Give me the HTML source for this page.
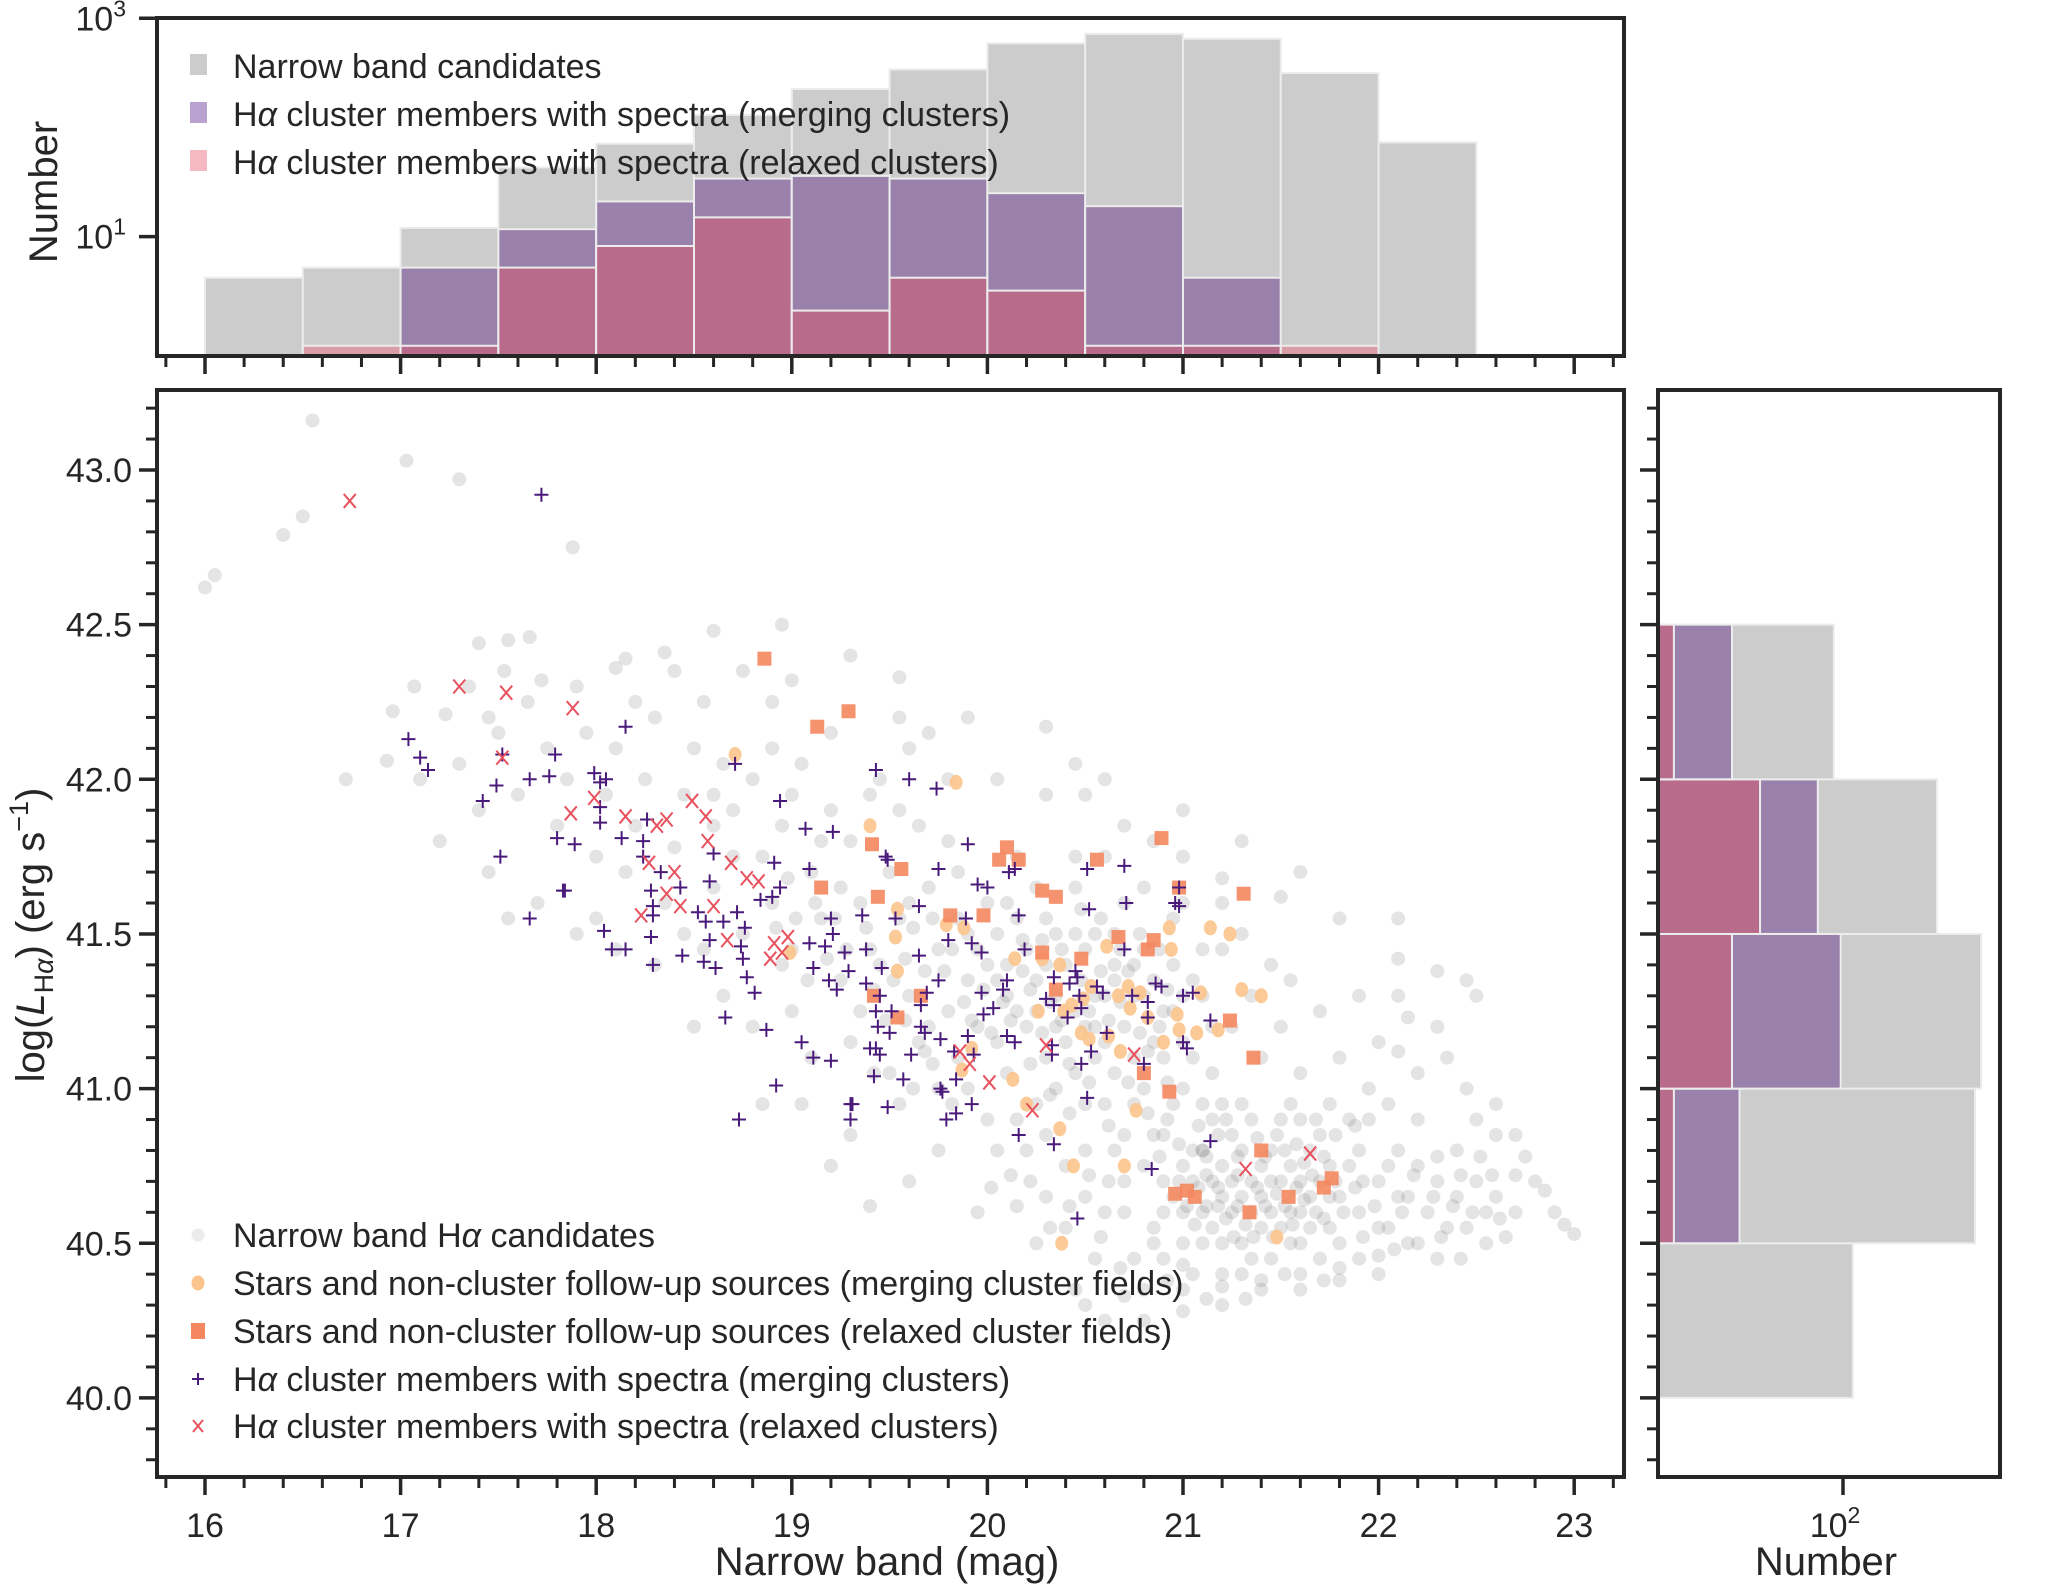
<!DOCTYPE html>
<html><head><meta charset="utf-8">
<style>
html,body{margin:0;padding:0;background:#fff;}
svg{display:block;font-family:"Liberation Sans",Arial,sans-serif;}
</style></head>
<body>
<svg id="fig" width="2050" height="1590" viewBox="0 0 2050 1590" xmlns="http://www.w3.org/2000/svg">
<g id="topHist"></g>
<g id="mainPlot"></g>
<g id="rightHist"></g>
</svg>
<script>
// ---------------- DATA ----------------
const binEdgesMag = [16,16.5,17,17.5,18,18.5,19,19.5,20,20.5,21,21.5,22,22.5];
const histCandidates = [4.2,5.2,12,43,71,130,225,340,590,720,650,315,73];
const histMerging = [0,0,5.2,11.7,21,34,36,34,25,19,4.2,0,0];
const histRelaxed = [0,1,1,5.2,8.2,15,2.1,4.2,3.2,1,1,1,0];

const binEdgesLum = [40.0,40.5,41.0,41.5,42.0,42.5];
const lumCandidates = [119,1036,1155,528,85];
const lumMerging = [0,16,96,64,14];
const lumRelaxed = [0,5,14,23,5];

const xTickLabels = ["16","17","18","19","20","21","22","23"];
const yTickLabels = ["40.0","40.5","41.0","41.5","42.0","42.5","43.0"];

const candidates = [
[16.0,42.62],[16.05,42.66],[16.4,42.79],[16.5,42.85],[16.55,43.16],[17.03,43.03],[17.3,42.97],[17.88,42.75],[16.72,42.0],[16.93,42.06],[17.07,42.30],[17.23,42.21],[16.96,42.22],[17.55,42.45],[17.66,42.46],[17.4,42.44],[17.53,42.35],[17.72,42.32],[17.45,42.2],[17.9,42.3],[18.1,42.36],[18.15,42.39],[18.35,42.41],[18.6,42.48],[18.9,42.25],[19.0,42.32],[19.55,42.33],[19.9,42.2],[20.3,42.17],[20.5,41.95],[20.7,41.85],[20.85,41.8],[21.0,41.75],[21.2,41.68],[21.5,41.62],[21.8,41.55],[22.1,41.42],[22.3,41.38],[22.45,41.35],[22.15,41.23],[22.1,41.12],[22.45,41.0],[22.6,40.85],[22.7,40.72],[22.8,40.7],[22.85,40.67],[22.9,40.6],[22.95,40.56],[23.0,40.53],[22.65,40.52],[22.55,40.6],[22.4,40.65],[22.3,40.78],[22.2,40.5],[22.0,40.46],[21.8,40.42],[21.6,40.4],[21.4,40.38],[21.2,40.36],[21.0,40.43],[20.85,40.5],[20.7,40.33],[20.5,40.3],
[17.3,42.05],[17.4,41.9],[17.5,42.15],[17.6,41.95],[17.65,42.25],[17.75,42.1],[17.8,41.85],[17.85,42.0],[17.95,42.15],[18.0,41.75],[18.05,41.95],[18.1,42.1],[18.15,41.7],[18.2,41.85],[18.25,42.0],[18.3,42.2],[18.35,41.6],[18.4,41.78],[18.45,41.95],[18.5,42.1],[17.7,41.6],[17.9,41.5],[18.1,41.45],[18.3,41.4],[18.45,41.5],[17.2,41.8],[17.45,41.7],[18.55,42.25],[18.6,41.85],[18.65,42.05],[17.55,41.55],[18.0,41.55],[18.2,42.25],[18.4,42.35],[17.35,42.3],[17.1,42.0],
[18.6,41.65],[18.7,41.9],[18.75,41.5],[18.8,42.0],[18.85,41.75],[18.9,41.6],[18.95,41.85],[19.0,41.45],[19.05,42.05],[19.1,41.7],[19.15,41.55],[19.2,41.9],[19.25,41.35],[19.3,41.8],[19.35,41.6],[19.4,41.45],[19.45,42.0],[19.5,41.7],[19.55,41.55],[19.6,41.3],[19.65,41.85],[19.7,41.65],[19.75,41.45],[19.8,42.0],[18.65,41.3],[18.8,41.2],[19.0,41.25],[19.1,41.1],[19.3,41.15],[19.5,41.05],[19.7,41.2],[19.75,41.0],[18.9,42.1],[19.2,42.15],[19.4,41.95],[19.6,42.1],[19.8,41.8],[19.85,41.55],[19.9,41.35],[18.7,41.75],[18.95,41.4],[19.15,41.8],[19.35,41.25],[19.55,41.9],[19.65,41.15],[19.0,41.95],[19.25,41.65],[19.45,41.4],[19.6,41.6],[19.8,41.25],[18.55,41.45],[18.6,41.95],[19.05,40.95],[19.3,40.85],[19.55,40.95],[19.75,40.8],[19.6,40.7],[19.4,40.62],[19.2,40.75],[18.85,40.95],[18.5,41.2],
[19.85,41.7],[19.9,41.5],[19.95,41.2],[20.0,41.6],[20.05,41.35],[20.1,41.05],[20.15,41.75],[20.2,41.45],[20.25,41.25],[20.3,41.55],[20.35,41.0],[20.4,41.4],[20.45,41.65],[20.5,41.2],[20.55,41.5],[20.6,40.95],[20.65,41.35],[20.7,41.6],[20.75,41.1],[20.8,41.45],[20.85,40.85],[20.9,41.25],[20.95,41.55],[21.0,41.0],[21.05,41.35],[21.1,40.8],[21.15,41.2],[21.2,41.45],
[19.9,41.0],[20.0,40.9],[20.1,41.3],[20.2,40.8],[20.3,41.1],[20.4,40.75],[20.5,40.95],[20.6,41.15],[20.7,40.85],[20.8,41.0],[20.9,40.7],[21.0,41.15],[21.1,41.3],[21.2,40.95],[19.95,41.45],[20.05,41.15],[20.15,41.55],[20.25,40.95],[20.35,41.3],[20.45,41.05],[20.55,41.3],[20.65,41.05],[20.75,41.4],[20.85,41.15],[20.95,40.95],[21.05,41.1],[21.15,41.05],[20.1,41.6],[20.2,41.2],[20.3,41.4],[20.4,41.15],[20.5,41.45],[20.6,41.3],[20.7,41.2],[20.8,41.3],[20.9,41.1],[21.0,41.3],[20.0,41.4],[20.1,41.4],[20.35,41.5],[20.55,41.1],[20.75,40.95],[20.95,41.25],[21.15,40.9],[20.25,41.65],[20.45,41.25],[20.65,41.5],[20.85,41.35],[19.85,41.1],[20.05,40.8],[20.15,40.9],[20.3,40.85],[20.5,40.8],[20.7,40.7],[20.45,41.75],[20.6,41.75],[20.8,41.65],[21.0,41.6],[21.2,41.6],[21.3,41.5],[21.35,41.3],[21.4,41.1],[21.3,40.95],[21.25,41.2],[21.45,41.4],[21.5,41.2],[21.55,41.35],[21.6,41.05],[21.7,41.25],[21.8,41.1],[21.9,41.3],[21.75,40.95],[21.6,40.9],
[20.7,40.6],[20.8,40.75],[20.85,40.55],[20.9,40.85],[20.95,40.65],[21.0,40.5],[21.05,40.8],[21.1,40.6],[21.15,40.7],[21.2,40.5],[21.25,40.85],[21.3,40.65],[21.35,40.45],[21.4,40.75],[21.45,40.6],[21.5,40.9],[21.55,40.5],[21.6,40.7],[21.65,40.55],[21.7,40.85],[21.75,40.65],[21.8,40.5],[21.85,40.75],[21.9,40.6],[21.95,40.9],[22.0,40.7],[22.05,40.55],[22.1,40.8],[22.15,40.65],[22.2,40.9],[22.25,40.6],[22.3,40.7],[22.35,40.55],
[20.75,40.45],[20.9,40.45],[21.05,40.4],[21.2,40.65],[21.3,40.8],[21.4,40.55],[21.5,40.7],[21.6,40.6],[21.7,40.45],[21.8,40.65],[21.9,40.8],[22.0,40.55],[22.1,40.65],[21.1,40.95],[21.25,40.7],[21.35,40.6],[21.45,40.8],[21.55,40.75],[21.65,40.8],[21.75,40.55],[21.85,40.9],[21.0,40.75],[21.15,40.55],[21.3,40.5],[21.45,40.45],[21.6,40.5],[21.2,40.75],[21.4,40.65],[21.5,40.55],[21.7,40.7],[21.9,40.45],[22.05,40.95],[22.2,40.75],[22.4,40.8],[22.5,40.7],[22.45,40.55],[22.3,40.45],[22.15,40.5],[20.6,40.6],[20.55,40.45],[20.65,40.8],[20.5,40.65],[21.0,40.6],[21.1,40.8],[21.35,40.9],[21.55,40.95],[21.0,40.35],[21.2,40.4],[21.4,40.35],[21.6,40.35],[21.8,40.38],[20.8,40.35],[22.0,40.4],[22.6,40.65],[22.7,40.6],[22.75,40.78],[22.55,40.5],[22.2,41.05],[22.35,41.1],[22.0,41.15],[22.1,41.3],[21.95,41.0],[22.5,40.9],[22.6,40.95],[22.7,40.85],[20.4,40.55],[20.3,40.65],[20.45,40.35],[20.6,40.25],[20.8,40.25],[21.0,40.28],[21.2,40.3],[20.25,40.5],[20.15,40.62],[19.95,40.6],[20.35,40.2],
[20.45,42.05],[20.3,41.95],[20.6,42.0],[19.55,42.2],[19.3,42.4],[18.95,42.5],[18.75,42.35],[21.3,41.8],[21.6,41.7],[21.0,41.9],[20.05,42.0],[19.7,42.15],[22.1,41.55],[22.5,41.3],[22.3,41.2],
[21.05,40.7],[21.25,40.6],[21.45,40.7],[21.65,40.65],[21.35,40.7],[21.55,40.6],[21.75,40.75],[20.9,40.6],[21.1,40.5],[21.3,40.4],[20.55,41.2],[20.35,41.2],[20.65,41.4],[20.45,41.5],[20.25,41.35],[20.75,41.3],[20.15,41.25],[20.95,41.4],[21.1,41.45],[20.05,41.5],
[21.02,40.62],[21.08,40.68],[21.12,40.72],[21.18,40.62],[21.22,40.58],[21.28,40.72],[21.32,40.56],[21.38,40.68],[21.42,40.62],[21.48,40.66],[21.52,40.62],[21.58,40.68],[21.62,40.64],[21.68,40.6],[21.72,40.58],[21.78,40.7],[21.82,40.6],[21.88,40.68],[21.28,40.62],[21.18,40.68],[21.36,40.52],[21.46,40.52],[21.26,40.52],[21.12,40.62],[21.56,40.56],[21.66,40.72],[21.06,40.56],[20.98,40.7],[21.92,40.7],[21.98,40.62],
[20.92,40.9],[20.98,40.82],[21.08,40.88],[21.18,40.85],[21.22,40.9],[21.38,40.84],[21.48,40.85],[21.58,40.82],[21.68,40.9],[21.78,40.85],[20.88,40.78],[21.12,40.78],[21.28,40.78],[21.42,40.78],[21.52,40.8],[21.62,40.76],[21.72,40.78],[21.88,40.88],
[20.22,41.32],[20.28,41.18],[20.32,41.28],[20.38,41.22],[20.42,41.08],[20.48,41.35],[20.52,41.25],[20.58,41.38],[20.62,41.22],[20.68,41.28],[20.72,41.38],[20.78,41.18],[20.82,41.12],[20.88,41.2],[20.92,41.32],[20.12,41.22],[20.18,41.38],[20.08,41.28],[20.02,41.18],[19.98,41.32],[20.38,41.45],[20.58,41.55],[20.78,41.5],[20.28,41.48],[20.48,41.58],[20.68,41.45],[20.88,41.45],[20.18,41.48],[20.22,41.08],[20.42,40.92],[20.62,40.88],[20.82,40.92],[20.32,40.98],[20.52,41.02],[20.72,41.02],[20.92,41.02],
[19.52,41.35],[19.58,41.42],[19.62,41.52],[19.68,41.38],[19.72,41.55],[19.78,41.38],[19.82,41.45],[19.88,41.28],[19.92,41.22],[19.48,41.22],[19.42,41.32],[19.38,41.52],[19.28,41.45],[19.22,41.55],[19.18,41.42],[19.12,41.6],[19.08,41.35],[19.02,41.55],[18.98,41.68],[18.92,41.52],[19.72,41.08],[19.82,40.95],[19.62,41.0],[19.42,41.05],[19.58,41.22],[19.68,41.12],
[22.05,40.75],[22.12,40.6],[22.18,40.72],[22.28,40.65],[22.38,40.62],[22.42,40.72],[22.48,40.6],[22.52,40.78],[22.58,40.72],[22.62,40.58],[22.32,40.52],[22.42,40.45],[22.08,40.48],[21.92,40.52],[21.72,40.38],[21.52,40.4],[21.32,40.32],[21.12,40.32],[20.92,40.38],[20.68,40.42],[20.58,40.52],[20.62,40.7],[20.52,40.72],[20.42,40.62],[20.32,40.55],[20.22,40.7],[20.12,40.72],[20.02,40.68]
];

const followMerging = [
[19.84,41.99],[19.40,41.85],[19.54,41.58],[19.79,41.53],[19.88,41.52],[19.53,41.49],[19.54,41.38],[20.14,41.42],[20.28,41.42],[20.37,41.40],[20.61,41.46],[20.93,41.52],[21.14,41.52],[21.24,41.50],[20.94,41.45],[20.53,41.33],[20.72,41.33],[20.78,41.31],[20.67,41.30],[20.49,41.29],[20.26,41.25],[20.39,41.25],[20.43,41.27],[20.73,41.26],[20.97,41.24],[20.82,41.23],[21.09,41.31],[21.30,41.32],[21.40,41.30],[20.48,41.18],[20.52,41.16],[20.62,41.17],[20.98,41.19],[21.07,41.18],[21.18,41.19],[20.90,41.15],[20.68,41.12],[19.92,41.13],[19.87,41.06],[20.13,41.03],[20.20,40.95],[20.37,40.87],[20.76,40.93],[20.44,40.75],[20.70,40.75],[21.48,40.52],[20.38,40.50],[18.71,42.08],[18.99,41.44]
];
const followRelaxed = [
[18.86,42.39],[19.29,42.22],[19.13,42.17],[19.41,41.79],[19.56,41.71],[19.15,41.65],[19.44,41.62],[19.42,41.30],[19.66,41.30],[19.54,41.23],[20.10,41.78],[20.06,41.74],[20.16,41.74],[20.56,41.74],[20.89,41.81],[20.28,41.64],[20.35,41.62],[20.98,41.65],[21.31,41.63],[19.81,41.56],[19.98,41.56],[20.67,41.49],[20.85,41.48],[20.82,41.45],[20.28,41.44],[20.48,41.42],[20.35,41.32],[21.24,41.22],[21.36,41.10],[20.80,41.05],[20.93,40.99],[21.40,40.80],[21.76,40.71],[21.72,40.68],[20.96,40.66],[21.02,40.67],[21.06,40.65],[21.54,40.65],[21.34,40.60]
];
const membersMerging = [
[17.04,42.13],[17.10,42.07],[17.14,42.03],[17.52,42.08],[17.79,42.08],[17.66,42.00],[17.76,42.01],[17.49,41.98],[17.42,41.93],[17.51,41.75],[17.99,42.02],[18.05,42.00],[18.02,41.99],[18.15,42.17],[18.02,41.86],[18.26,41.87],[17.80,41.81],[17.89,41.79],[18.13,41.81],[18.24,41.80],[18.24,41.75],[18.33,41.70],[17.84,41.64],[17.66,41.55],[18.28,41.64],[18.29,41.59],[18.29,41.56],[18.04,41.51],[18.08,41.45],[18.15,41.45],[18.28,41.49],[18.29,41.40],[18.43,41.65],[18.58,41.67],[18.60,41.76],[18.71,42.05],[18.91,41.73],[18.94,41.93],[19.07,41.84],[19.21,41.83],[19.09,41.71],[18.94,41.65],[18.84,41.61],[18.90,41.62],[18.52,41.57],[18.72,41.57],[18.56,41.54],[18.65,41.54],[18.76,41.52],[18.58,41.48],[18.44,41.43],[18.55,41.41],[18.61,41.39],[18.74,41.46],[18.75,41.42],[18.77,41.36],[18.81,41.31],[18.66,41.23],[18.87,41.19],[19.05,41.15],[18.92,41.01],[18.73,40.90],[19.11,41.10],[19.20,41.09],[19.11,41.39],[19.09,41.47],[19.17,41.46],[19.20,41.55],[19.21,41.50],[19.27,41.44],[19.29,41.38],[19.19,41.35],[19.23,41.32],[19.36,41.56],[19.38,41.45],[19.38,41.34],[19.46,41.39],[19.49,41.74],[19.43,42.03],[19.60,42.00],[19.74,41.97],[19.75,41.71],[19.65,41.59],[19.53,41.55],[19.45,41.30],[19.43,41.25],[19.51,41.25],[19.66,41.27],[19.69,41.31],[19.44,41.20],[19.50,41.18],[19.66,41.20],[19.68,41.18],[19.76,41.16],[19.43,41.13],[19.45,41.11],[19.61,41.11],[19.42,41.04],[19.57,41.03],[19.77,40.99],[19.30,40.95],[19.30,40.90],[19.49,40.94],[19.75,41.35],[19.65,41.43],
[19.48,41.75],[20.11,41.70],[19.95,41.66],[20.00,41.65],[19.89,41.55],[20.16,41.56],[20.52,41.58],[20.71,41.60],[20.98,41.59],[19.80,41.48],[19.92,41.47],[19.97,41.44],[20.19,41.45],[20.70,41.45],[20.10,41.35],[20.34,41.36],[20.45,41.38],[20.46,41.36],[20.42,41.34],[19.97,41.31],[20.08,41.32],[20.56,41.33],[20.59,41.31],[20.47,41.30],[20.74,41.30],[20.86,41.34],[20.89,41.33],[21.00,41.30],[21.05,41.31],[20.30,41.29],[20.34,41.27],[20.48,41.26],[20.82,41.28],[20.03,41.26],[19.98,41.24],[20.41,41.23],[20.82,41.23],[21.14,41.22],[19.90,41.17],[20.10,41.17],[20.14,41.15],[20.61,41.18],[19.40,41.13],[19.83,41.12],[19.93,41.11],[20.33,41.14],[20.33,41.11],[20.53,41.12],[20.48,41.08],[21.00,41.15],[21.02,41.13],[20.80,41.08],[19.84,41.03],[19.76,41.00],[19.92,40.95],[19.31,40.95],[19.84,40.92],[19.79,40.90],[20.51,40.97],[20.16,40.85],[20.34,40.82],[21.14,40.83],[20.84,40.74],[20.46,40.58],
[17.72,42.92],[17.83,41.64],[18.02,41.91],[20.96,41.60],[20.98,41.65],[20.70,41.72],[20.51,41.71],[20.14,41.71],[19.90,41.79]
];
const membersRelaxed = [
[16.74,42.90],[17.30,42.30],[17.54,42.28],[17.52,42.07],[17.88,42.23],[17.99,41.94],[17.87,41.89],[18.15,41.88],[18.31,41.85],[18.36,41.87],[18.49,41.93],[18.56,41.88],[18.27,41.73],[18.40,41.70],[18.57,41.80],[18.69,41.73],[18.77,41.68],[18.83,41.67],[18.43,41.59],[18.60,41.59],[18.67,41.48],[18.91,41.47],[18.95,41.44],[18.98,41.49],[18.89,41.42],[19.86,41.12],[19.91,41.08],[20.01,41.02],[20.23,40.93],[20.30,41.14],[20.75,41.11],[21.32,40.74],[21.65,40.79],[18.23,41.56],[18.36,41.63]
];

// ---------------- LAYOUT ----------------
const NS = "http://www.w3.org/2000/svg";
const AX = {l:157, r:1624};
const TOPB = {t:18, b:356};
const MAIN = {t:390, b:1477};
const RIGHT = {l:1658, r:2000};
const INK = "#262626";
const TICKFS = 34, LABFS = 40, LEGFS = 34;
const xMag = m => 205 + (m - 16) * 195.6;
const yLum = v => 470 + (43 - v) * 309.3;
const yTopLog = v => 236.6 - (Math.log10(v) - 1) * 109.15;
const xRightLog = v => 1843 + (Math.log10(v) - 2) * 130;

function el(tag, attrs, parent, text) {
  const e = document.createElementNS(NS, tag);
  for (const k in attrs) e.setAttribute(k, attrs[k]);
  if (text !== undefined) e.textContent = text;
  parent.appendChild(e);
  return e;
}
const topG = document.getElementById('topHist');
const mainG = document.getElementById('mainPlot');
const rightG = document.getElementById('rightHist');

const GRAY = "#cccccc", PURP = "#9a81ab", REDP = "#b96b8c", REDG = "#d99ea5", EDGE = "#ececec";

function topBar(i, v, fill, name) {
  if (v <= 0) return;
  const x0 = xMag(binEdgesMag[i]), x1 = xMag(binEdgesMag[i+1]);
  const y = yTopLog(v);
  const r = el('rect', {x:x0, y:y, width:x1-x0, height:TOPB.b-y, fill:fill, stroke:EDGE, 'stroke-width':2}, topG);
  
  
}
for (let i = 0; i < histCandidates.length; i++) {
  topBar(i, histCandidates[i], GRAY, 'top-bar-candidates');
  topBar(i, histMerging[i], PURP, 'top-bar-merging');
  topBar(i, histRelaxed[i], histMerging[i] >= histRelaxed[i] ? REDP : REDG, 'top-bar-relaxed');
}

function rightBar(i, v, fill, name) {
  if (v <= 0) return;
  const y0 = yLum(binEdgesLum[i+1]), y1 = yLum(binEdgesLum[i]);
  const x = xRightLog(v);
  const r = el('rect', {x:RIGHT.l, y:y0, width:x-RIGHT.l, height:y1-y0, fill:fill, stroke:EDGE, 'stroke-width':2}, rightG);
  
  
}
for (let i = 0; i < lumCandidates.length; i++) {
  rightBar(i, lumCandidates[i], GRAY, 'right-bar-candidates');
  rightBar(i, lumMerging[i], PURP, 'right-bar-merging');
  rightBar(i, lumRelaxed[i], lumMerging[i] >= lumRelaxed[i] ? REDP : REDG, 'right-bar-relaxed');
}

// ---------- Scatter ----------
const cg = el('g', {}, mainG);


candidates.forEach(p => {
  const c = el('circle', {cx:xMag(p[0]), cy:yLum(p[1]), r:7, fill:'#7a7a7a', 'fill-opacity':0.2}, cg);
  
  
});
const om = el('g', {}, mainG);


followMerging.forEach(p => {
  const c = el('ellipse', {cx:xMag(p[0]), cy:yLum(p[1]), rx:6.5, ry:7.5, fill:'#fbc48c', 'fill-opacity':0.9}, om);
  
  
});
const orx = el('g', {}, mainG);


followRelaxed.forEach(p => {
  const c = el('rect', {x:xMag(p[0])-7, y:yLum(p[1])-7, width:14, height:14, fill:'#f4875f', 'fill-opacity':0.9}, orx);
  
  
});
const mm = el('g', {stroke:'#4a1a7a', 'stroke-width':2}, mainG);


membersMerging.forEach(p => {
  const x = xMag(p[0]), y = yLum(p[1]);
  const c = el('path', {d:`M${x-7},${y}H${x+7}M${x},${y-7}V${y+7}`, fill:'none'}, mm);
  
  
});
const mr = el('g', {stroke:'#e8515e', 'stroke-width':2}, mainG);


membersRelaxed.forEach(p => {
  const x = xMag(p[0]), y = yLum(p[1]);
  const c = el('path', {d:`M${x-6},${y-7}L${x+6},${y+7}M${x+6},${y-7}L${x-6},${y+7}`, fill:'none'}, mr);
  
  
});

// ---------- Frames & ticks ----------
function frame(parent, x0, y0, x1, y1, name) {
  const r = el('rect', {x:x0, y:y0, width:x1-x0, height:y1-y0, fill:'none', stroke:INK, 'stroke-width':4}, parent);
  
  
}
frame(topG, AX.l, TOPB.t, AX.r, TOPB.b, 'top-axes-frame');
frame(mainG, AX.l, MAIN.t, AX.r, MAIN.b, 'main-axes-frame');
frame(rightG, RIGHT.l, MAIN.t, RIGHT.r, MAIN.b, 'right-axes-frame');

function tick(parent, x1, y1, x2, y2, w, name) {
  const t = el('line', {x1:x1, y1:y1, x2:x2, y2:y2, stroke:INK, 'stroke-width':w}, parent);
  
  
}
for (let k = 0; k <= 37; k++) {
  const m = 15.8 + k * 0.2;
  const x = xMag(m);
  if (x < AX.l - 1 || x > AX.r + 1) continue;
  const major = Math.abs(m - Math.round(m)) < 1e-6;
  const len = major ? 18 : 11;
  tick(topG, x, TOPB.b, x, TOPB.b + len, major ? 3.5 : 3, 'top-x-tick');
  tick(mainG, x, MAIN.b, x, MAIN.b + len, major ? 3.5 : 3, 'main-x-tick');
}
xTickLabels.forEach(s => {
  const t = el('text', {x:xMag(+s), y:1537, 'font-size':TICKFS, 'text-anchor':'middle', fill:INK}, mainG, s);
  
  
});
for (let k = 0; k <= 36; k++) {
  const v = 39.8 + k * 0.1;
  const y = yLum(v);
  if (y < MAIN.t + 2 || y > MAIN.b - 2) continue;
  const major = Math.abs(v * 2 - Math.round(v * 2)) < 1e-6;
  const len = major ? 18 : 11;
  tick(mainG, AX.l - len, y, AX.l, y, major ? 3.5 : 3, 'main-y-tick');
  tick(rightG, RIGHT.l - len, y, RIGHT.l, y, major ? 3.5 : 3, 'right-y-tick');
}
yTickLabels.forEach(s => {
  const t = el('text', {x:132, y:yLum(+s) + 12, 'font-size':TICKFS, 'text-anchor':'end', fill:INK}, mainG, s);
  
  
});
[1000, 10].forEach(v => {
  const y = yTopLog(v);
  tick(topG, AX.l - 18, y, AX.l, y, 3.5, 'top-y-tick');
  const t = el('text', {x:126, y:y + 12, 'font-size':TICKFS, 'text-anchor':'end', fill:INK}, topG);
  
  
  el('tspan', {}, t, '10');
  el('tspan', {dy:-14, 'font-size':23}, t, v === 1000 ? '3' : '1');
});
{
  const x = xRightLog(100);
  tick(rightG, x, MAIN.b, x, MAIN.b + 18, 3.5, 'right-x-tick');
  const t = el('text', {x:x - 8, y:1537, 'font-size':TICKFS, 'text-anchor':'middle', fill:INK}, rightG);
  
  
  el('tspan', {}, t, '10');
  el('tspan', {dy:-14, 'font-size':23}, t, '2');
}

// ---------- Axis labels ----------
{
  const t = el('text', {x:887, y:1575, 'font-size':LABFS, 'text-anchor':'middle', fill:INK}, mainG, 'Narrow band (mag)');
  
  
  const t2 = el('text', {x:1826, y:1575, 'font-size':LABFS, 'text-anchor':'middle', fill:INK}, rightG, 'Number');
  
  
  const t3 = el('text', {x:0, y:0, 'font-size':LABFS, 'text-anchor':'middle', fill:INK, transform:'translate(57,192) rotate(-90)'}, topG, 'Number');
  
  
  const t4 = el('text', {x:0, y:0, 'font-size':LABFS, 'text-anchor':'middle', fill:INK, transform:'translate(44,935) rotate(-90)'}, mainG);
  
  
  el('tspan', {}, t4, 'log(');
  el('tspan', {'font-style':'italic'}, t4, 'L');
  el('tspan', {dy:9, 'font-size':27}, t4, 'H');
  el('tspan', {'font-size':27, 'font-style':'italic'}, t4, 'α');
  el('tspan', {dy:-9}, t4, ') (erg s');
  el('tspan', {dy:-16, 'font-size':27}, t4, '−1');
  el('tspan', {dy:16}, t4, ')');
}

// ---------- Legends ----------
function legendText(parent, x, y, parts, name) {
  const t = el('text', {x:x, y:y, 'font-size':LEGFS, fill:INK}, parent);
  
  
  parts.forEach(p => {
    el('tspan', p.it ? {'font-style':'italic'} : {}, t, p.s);
  });
}
const HA = [{s:'H'},{s:'α',it:true}];
const topLegend = el('g', {}, topG);


[
  {c:'#cccccc', y:66, parts:[{s:'Narrow band candidates'}], n:'legend-entry-candidates'},
  {c:'#b9a2cf', y:114, parts:HA.concat([{s:' cluster members with spectra (merging clusters)'}]), n:'legend-entry-merging'},
  {c:'#f4b9c1', y:162, parts:HA.concat([{s:' cluster members with spectra (relaxed clusters)'}]), n:'legend-entry-relaxed'}
].forEach(e => {
  const r = el('rect', {x:190, y:e.y - 12, width:17, height:21, fill:e.c}, topLegend);
  
  
  legendText(topLegend, 233, e.y + 12, e.parts, e.n);
});

const mainLegend = el('g', {}, mainG);


const ly = [1235, 1283, 1331, 1379, 1426];
const lx = 198;
{
  const a = el('circle', {cx:lx, cy:ly[0], r:6.5, fill:'#808080', 'fill-opacity':0.15}, mainLegend);
  
  
  const b = el('ellipse', {cx:lx, cy:ly[1], rx:6.5, ry:7.5, fill:'#fbc48c'}, mainLegend);
  
  
  const c = el('rect', {x:lx - 7, y:ly[2] - 8, width:14, height:16, fill:'#f4875f'}, mainLegend);
  
  
  const d = el('path', {d:`M${lx-6},${ly[3]}H${lx+6}M${lx},${ly[3]-6}V${ly[3]+6}`, stroke:'#4a1a7a', 'stroke-width':2}, mainLegend);
  
  
  const e = el('path', {d:`M${lx-5},${ly[4]-6}L${lx+5},${ly[4]+6}M${lx+5},${ly[4]-6}L${lx-5},${ly[4]+6}`, stroke:'#e8515e', 'stroke-width':2}, mainLegend);
  
  
}
legendText(mainLegend, 233, ly[0] + 12, [{s:'Narrow band H'},{s:'α',it:true},{s:' candidates'}], 'legend-entry-nb-candidates');
legendText(mainLegend, 233, ly[1] + 12, [{s:'Stars and non-cluster follow-up sources (merging cluster fields)'}], 'legend-entry-follow-merging');
legendText(mainLegend, 233, ly[2] + 12, [{s:'Stars and non-cluster follow-up sources (relaxed cluster fields)'}], 'legend-entry-follow-relaxed');
legendText(mainLegend, 233, ly[3] + 12, HA.concat([{s:' cluster members with spectra (merging clusters)'}]), 'legend-entry-members-merging');
legendText(mainLegend, 233, ly[4] + 12, HA.concat([{s:' cluster members with spectra (relaxed clusters)'}]), 'legend-entry-members-relaxed');
</script>
</body></html>
